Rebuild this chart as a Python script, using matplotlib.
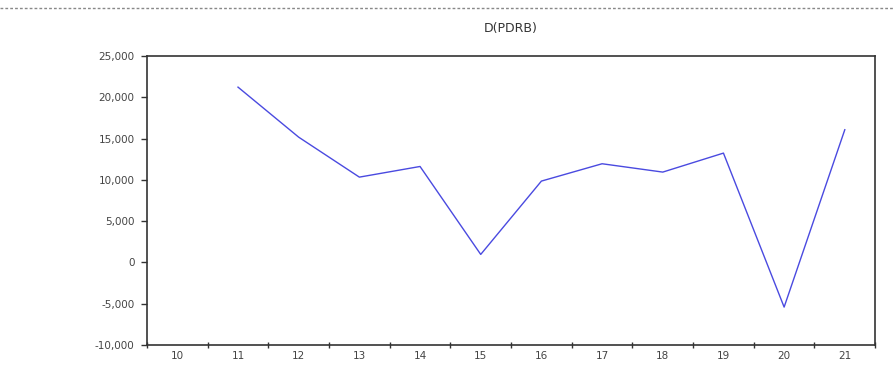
import matplotlib.pyplot as plt
from matplotlib.lines import Line2D
import numpy as np

years = ["10", "11", "12", "13", "14", "15", "16", "17", "18", "19", "20", "21"]
d_pdrb = [np.nan, 21230, 15170, 10330, 11620, 970, 9850, 11950, 10940, 13240, -5410, 16070]
y_ticks = [-10000, -5000, 0, 5000, 10000, 15000, 20000, 25000]

fig = plt.figure(figsize=(8.93, 3.66), dpi=100)
ax = fig.add_axes([0.1646, 0.0574, 0.8154, 0.7896])

x = np.arange(len(years))
ax.plot(x, d_pdrb, color="#4a4ae0", linewidth=1.0)

ax.set_xlim(-0.5, len(years) - 0.5)
ax.set_ylim(-10000, 25000)

# tick marks between categories, labels centered
ax.set_xticks(np.arange(len(years) + 1) - 0.5)
ax.set_xticklabels([])
ax.set_xticks(x, minor=True)
ax.set_xticklabels(years, minor=True)
ax.tick_params(axis="x", which="major", direction="inout", length=5, width=1, color="#333333")
ax.tick_params(axis="x", which="minor", length=0, labelsize=7.5, labelcolor="#444444", pad=4)

ax.set_yticks(y_ticks)
ax.set_yticklabels([f"{v:,}" for v in y_ticks])
ax.tick_params(axis="y", direction="out", length=4, width=1, color="#333333",
               labelsize=7.5, labelcolor="#444444", pad=5)

for s in ax.spines.values():
    s.set_linewidth(1.2)
    s.set_color("#333333")

ax.set_title("D(PDRB)", fontsize=9, color="#333333", pad=17)

fig.add_artist(Line2D([0.0, 1.0], [0.978, 0.978], transform=fig.transFigure,
                      color="#888888", linewidth=1.0, linestyle=(0, (2, 1.5))))

fig.savefig("out.png", dpi=100)
